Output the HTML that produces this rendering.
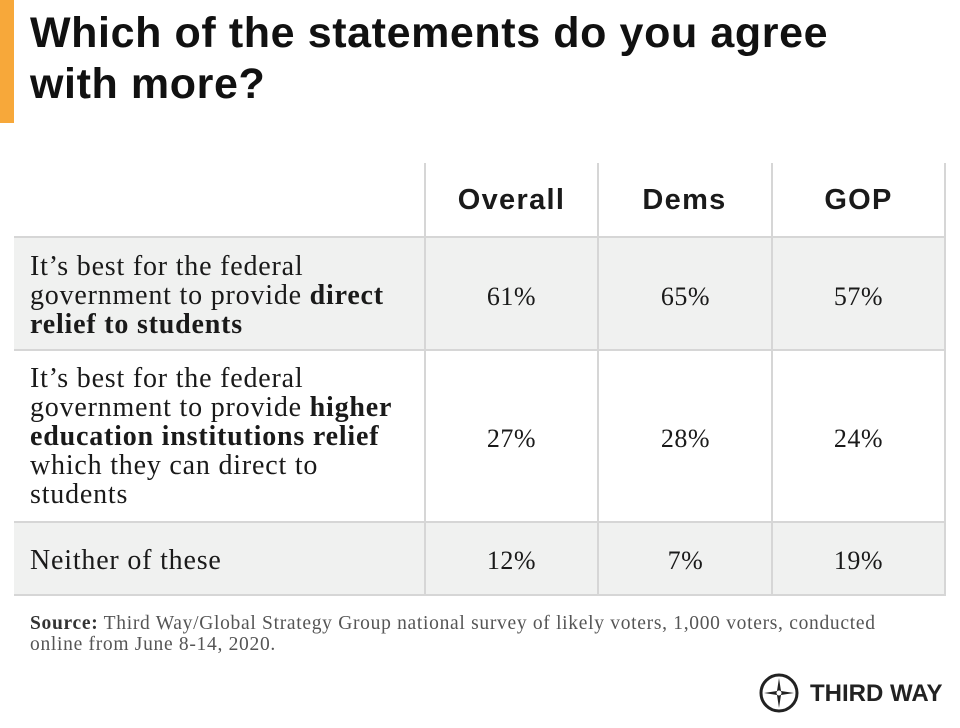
<!DOCTYPE html>
<html><head><style>
body{margin:0;width:960px;height:728px;background:#fff;position:relative;overflow:hidden;font-family:"Liberation Serif",serif;color:#1a1a1a}
.bar{position:absolute;left:0;top:0;width:14px;height:123px;background:#f7a83a}
h1{position:absolute;left:30px;top:8px;margin:0;font:bold 43px/51px "Liberation Sans",sans-serif;letter-spacing:0.6px;color:#111;white-space:nowrap}
.cell{position:absolute;box-sizing:border-box}
.hd{font:bold 29px "Liberation Sans",sans-serif;letter-spacing:1.3px;text-align:center;top:163px;height:74px;line-height:74px}
.lab{font-size:28px;line-height:29px;left:30px;width:395px;letter-spacing:0.8px;white-space:nowrap}
.num{font-size:26px;text-align:center;width:173px;letter-spacing:0.5px}
.vl{position:absolute;width:2px;background:#d6d6d6}
.hl{position:absolute;height:2px;background:#d6d6d6;left:14px;width:932px}
.src{position:absolute;left:30px;top:613px;font-size:19.5px;line-height:21px;color:#555;width:920px;letter-spacing:0.7px;white-space:nowrap}
</style></head><body>
<div class="bar"></div>
<h1>Which of the statements do you agree<br>with more?</h1>
<div style="position:absolute;left:14px;top:237px;width:931px;height:113px;background:#f0f1f0"></div>
<div style="position:absolute;left:14px;top:522px;width:931px;height:73px;background:#f0f1f0"></div>
<div class="hl" style="top:236px"></div>
<div class="hl" style="top:349px"></div>
<div class="hl" style="top:521px"></div>
<div class="hl" style="top:594px"></div>
<div class="vl" style="left:424px;top:163px;height:433px"></div>
<div class="vl" style="left:597px;top:163px;height:433px"></div>
<div class="vl" style="left:771px;top:163px;height:433px"></div>
<div class="vl" style="left:944px;top:163px;height:433px"></div>
<div class="cell hd" style="left:425px;width:173px">Overall</div>
<div class="cell hd" style="left:598px;width:173px">Dems</div>
<div class="cell hd" style="left:772px;width:173px">GOP</div>
<div class="cell lab" style="top:252px">It’s best for the federal<br>government to provide <b>direct</b><br><b>relief to students</b></div>
<div class="cell num" style="left:425px;top:282px">61%</div>
<div class="cell num" style="left:599px;top:282px">65%</div>
<div class="cell num" style="left:772px;top:282px">57%</div>
<div class="cell lab" style="top:364px">It’s best for the federal<br>government to provide <b>higher</b><br><b>education institutions relief</b><br>which they can direct to<br>students</div>
<div class="cell num" style="left:425px;top:424px">27%</div>
<div class="cell num" style="left:599px;top:424px">28%</div>
<div class="cell num" style="left:772px;top:424px">24%</div>
<div class="cell lab" style="top:546px">Neither of these</div>
<div class="cell num" style="left:425px;top:546px">12%</div>
<div class="cell num" style="left:599px;top:546px">7%</div>
<div class="cell num" style="left:772px;top:546px">19%</div>
<div class="src"><b style="color:#333">Source:</b> Third Way/Global Strategy Group national survey of likely voters, 1,000 voters, conducted<br>online from June 8-14, 2020.</div>
<svg style="position:absolute;left:758px;top:672px" width="42" height="42" viewBox="0 0 42 42">
<circle cx="21" cy="21" r="18" fill="none" stroke="#222" stroke-width="3"/>
<polygon points="21,6 23,19 36,21 23,23 21,36 19,23 6,21 19,19" fill="#222"/>
<circle cx="21" cy="21" r="2.5" fill="#fff"/>
</svg>
<div style="position:absolute;left:810px;top:680px;font:bold 24px/28px 'Liberation Sans',sans-serif;color:#222">THIRD WAY</div>
</body></html>
